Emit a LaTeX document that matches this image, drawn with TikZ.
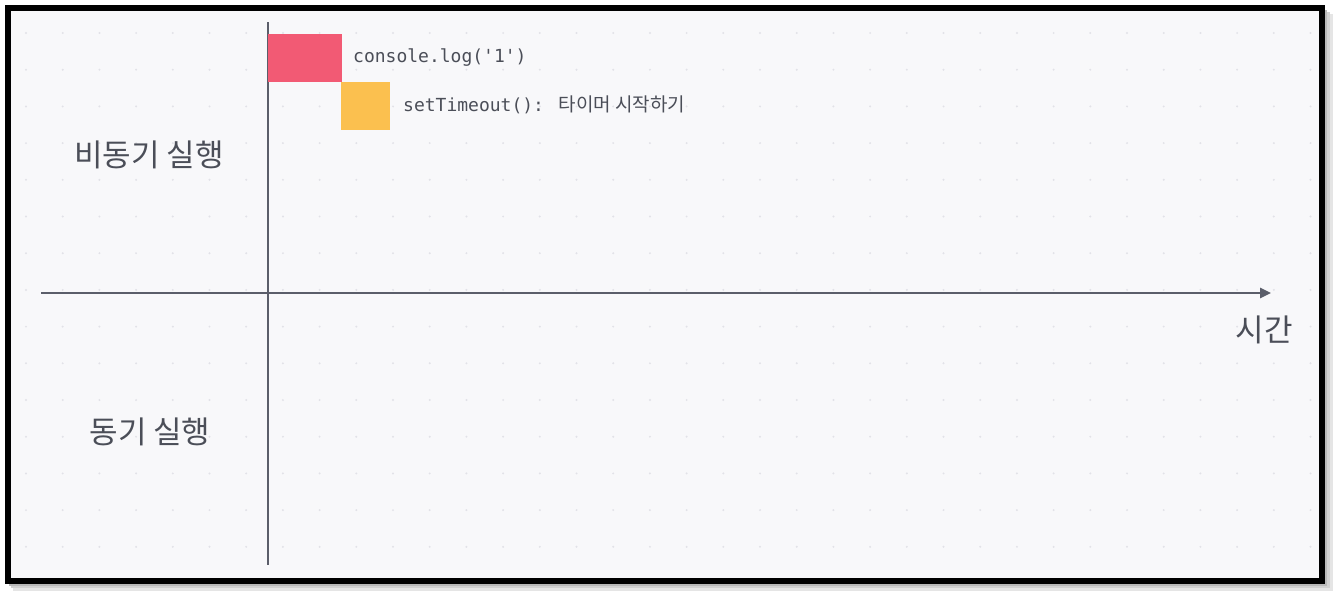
\documentclass[tikz,border=0pt]{standalone}
\usepackage{fontspec}
\usetikzlibrary{arrows.meta}
\newfontfamily\kr{Noto Sans CJK KR}
\newfontfamily\mono{DejaVu Sans Mono}
\definecolor{bgpanel}{HTML}{F8F8FA}
\definecolor{axisgray}{HTML}{5B5E6A}
\definecolor{txtgray}{HTML}{4B4E58}
\definecolor{dotgray}{HTML}{E2E2E8}
\definecolor{redblk}{HTML}{F25A74}
\definecolor{yelblk}{HTML}{FBC04F}
\tikzset{
  axis/.style={draw=axisgray, line width=2.5pt},
  block/.style={inner sep=0pt, outer sep=0pt, draw=none},
  codelabel/.style={inner sep=0pt, anchor=west, text=txtgray, font=\mono\fontsize{18}{20}\selectfont},
  rowlabel/.style={inner sep=0pt, text=txtgray, font=\kr\fontsize{31}{34}\selectfont},
}
\begin{document}
\begin{tikzpicture}[x=1pt,y=-1pt]
\useasboundingbox (0,0) rectangle (1338,597);
\fill[white] (0,0) rectangle (1338,597);
% shadow
\fill[black!10] (13,14) rectangle (1333,591);
\fill[black!18] (11,12) rectangle (1330,588);
\fill[black!28] (9,10) rectangle (1327,586);
% panel
\fill[bgpanel] (8,8) rectangle (1322,581);
% dot grid
\foreach \i in {0,...,35} {
  \foreach \j in {0,...,14} {
    \fill[dotgray] (26+36.7*\i,33+36.7*\j) circle (1.1pt);
  }
}
% frame
\draw[black, line width=6pt] (8,8) rectangle (1322,581);
% axes
\coordinate (vtop) at (268,22);
\coordinate (vbot) at (268,565);
\coordinate (hleft) at (41,293);
\coordinate (hright) at (1271,293);
\draw[axis] (vtop) -- (vbot);
\draw[axis, -{Triangle[length=11pt,width=10pt]}] (hleft) -- (hright);
% blocks
\node[block, fill=redblk, minimum width=74pt, minimum height=48pt, anchor=north west] (red) at (268,34) {};
\node[block, fill=yelblk, minimum width=49pt, minimum height=48pt, anchor=north west] (yel) at (341,82) {};
% labels
\node[codelabel] (l1) at (353,58) {console.log('1')};
\node[codelabel] (l2) at (403,105) {setTimeout(): {\kr\fontsize{19}{21}\selectfont 타이머 시작하기}};
\node[rowlabel] (async) at (149,155) {비동기 실행};
\node[rowlabel] (sync) at (150,432) {동기 실행};
\node[rowlabel] (time) at (1264,330) {시간};
\end{tikzpicture}
\end{document}
